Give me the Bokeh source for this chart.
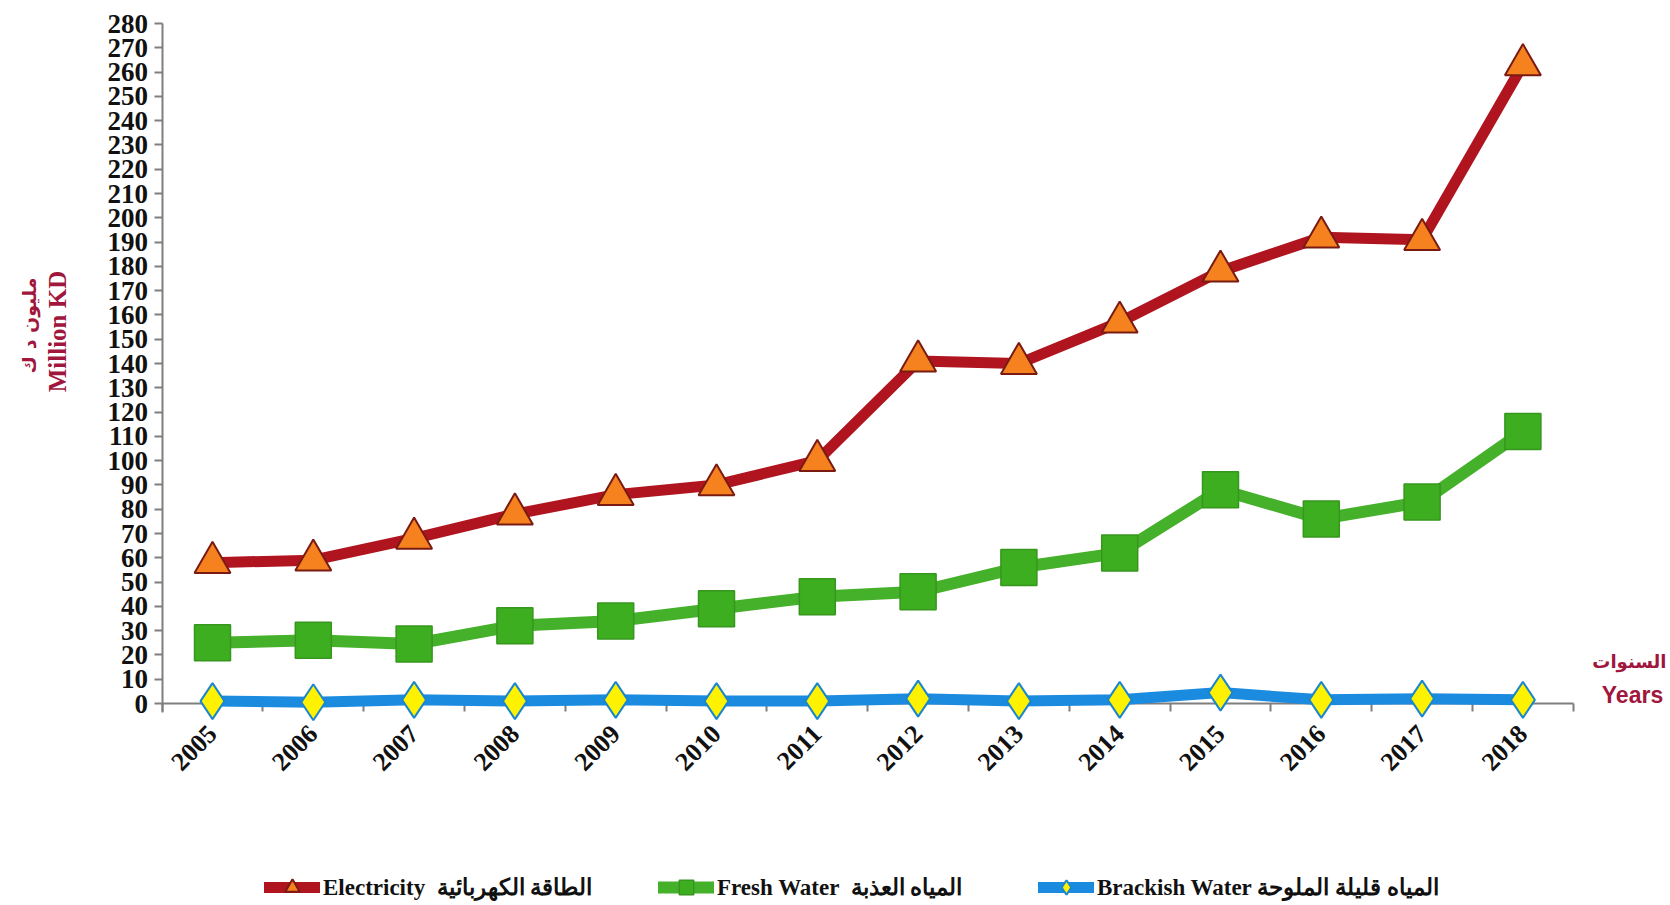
import math
from bokeh.plotting import figure
from bokeh.models import FixedTicker, Label, Legend, LegendItem, Range1d, ColumnDataSource
from bokeh.embed import file_html
from bokeh.resources import INLINE

years = [2005, 2006, 2007, 2008, 2009, 2010, 2011, 2012, 2013, 2014, 2015, 2016, 2017, 2018]
electricity = [58, 59, 68, 78, 86, 90, 100, 141, 140, 157, 178, 192, 191, 263]
fresh_water = [25, 26, 24.5, 32, 34, 39, 44, 46, 56, 62, 88, 76, 83, 112]
brackish_water = [1, 0.5, 1.5, 1, 1.5, 1, 1, 2, 1, 1.5, 4.5, 1.5, 2, 1.5]
y_ticks = list(range(0, 281, 10))

legend_labels = [
    "Electricity  الطاقة الكهربائية",
    "Fresh Water  المياه العذبة",
    "Brackish Water المياه قليلة الملوحة",
]

CRIMSON = "#A0163C"
SERIF = "Liberation Serif"
W, H = 1670, 905

# layout geometry (page pixels) -> the frame covers the whole figure
X_PX0, X_PER = 161.6, 100.8      # page x of (first year - 0.5), pixels per year
Y_PX0, Y_PER = 703.0, 680 / 280  # page y of value 0, pixels per unit
x_lo = years[0] - 0.5
x_hi = years[-1] + 0.5


def px_x(page_x):
    return x_lo + (page_x - X_PX0) / X_PER


def px_y(page_y):
    return (Y_PX0 - page_y) / Y_PER


src = ColumnDataSource(dict(x=years, e=electricity, f=fresh_water, b=brackish_water))

p = figure(width=W, height=H, output_backend="svg", toolbar_location=None,
           x_range=Range1d(px_x(0), px_x(W)), y_range=Range1d(px_y(H), px_y(0)),
           min_border=0)
p.outline_line_color = None
p.xgrid.grid_line_color = None
p.ygrid.grid_line_color = None
p.background_fill_color = "white"
p.border_fill_color = "white"

# series
l_b = p.line("x", "b", source=src, line_color="#1B8BE0", line_width=11, line_cap="round", line_join="round")
l_f = p.line("x", "f", source=src, line_color="#45B02A", line_width=12, line_cap="round", line_join="round")
l_e = p.line("x", "e", source=src, line_color="#B0141F", line_width=11, line_cap="round", line_join="round")
m_b = p.scatter("x", "b", source=src, marker="diamond", size=36, fill_color="#FFF200",
                line_color="#1A86D0", line_width=2)
m_f = p.scatter("x", "f", source=src, marker="square", size=36, fill_color="#3DAE1F",
                line_color="#37961E", line_width=1.5)
m_e = p.scatter("x", "e", source=src, marker="triangle", size=36, fill_color="#F5821F",
                line_color="#7A1A12", line_width=2)

# axes placed at fixed data locations inside the full-figure frame
yax = p.yaxis[0]
yax.fixed_location = x_lo
yax.bounds = (-3.5, y_ticks[-1])
yax.ticker = FixedTicker(ticks=y_ticks)
yax.axis_line_color = "#7F7F7F"
yax.axis_line_width = 2
yax.major_tick_line_color = "#7F7F7F"
yax.major_tick_line_width = 2
yax.major_tick_out = 8
yax.major_tick_in = 0
yax.minor_tick_line_color = None
yax.major_label_text_font = SERIF
yax.major_label_text_font_style = "bold"
yax.major_label_text_font_size = "27px"
yax.major_label_text_color = "#111111"
yax.major_label_standoff = 6
yax.level = "underlay"

xax = p.xaxis[0]
xax.fixed_location = 0
xax.bounds = (x_lo, x_hi)
xax.ticker = FixedTicker(ticks=years, minor_ticks=[y - 0.5 for y in years] + [x_hi])
xax.major_label_overrides = {y: str(y) for y in years}
xax.axis_line_color = "#7F7F7F"
xax.axis_line_width = 2
xax.major_tick_line_color = None
xax.major_tick_out = 0
xax.major_tick_in = 0
xax.minor_tick_line_color = "#7F7F7F"
xax.minor_tick_line_width = 2
xax.minor_tick_out = 8
xax.minor_tick_in = 0
xax.major_label_orientation = math.pi / 4
xax.major_label_text_font = SERIF
xax.major_label_text_font_style = "bold"
xax.major_label_text_font_size = "26px"
xax.major_label_text_color = "#111111"
xax.major_label_standoff = 18
xax.level = "underlay"

# axis titles
p.add_layout(Label(x=px_x(28), y=px_y(325), text="مليون د ك", angle=math.pi / 2,
                   text_align="center", text_baseline="middle", text_color=CRIMSON,
                   text_font="DejaVu Sans", text_font_style="bold", text_font_size="19px"))
p.add_layout(Label(x=px_x(57), y=px_y(331), text="Million KD", angle=math.pi / 2,
                   text_align="center", text_baseline="middle", text_color=CRIMSON,
                   text_font=SERIF, text_font_style="bold", text_font_size="25px"))
p.add_layout(Label(x=px_x(1666), y=px_y(661), text="السنوات",
                   text_align="right", text_baseline="middle", text_color=CRIMSON,
                   text_font="DejaVu Sans", text_font_style="bold", text_font_size="18px"))
p.add_layout(Label(x=px_x(1632), y=px_y(694), text="Years",
                   text_align="center", text_baseline="middle", text_color=CRIMSON,
                   text_font="Liberation Sans", text_font_style="bold", text_font_size="23px"))

# legends (one per item to pin positions)
legend_x = [264, 658, 1038]
for lab, rends, lx in zip(legend_labels, [[l_e, m_e], [l_f, m_f], [l_b, m_b]], legend_x):
    lg = Legend(items=[LegendItem(label=lab, renderers=rends)], location=(lx, 0),
                orientation="horizontal", glyph_width=56, glyph_height=36,
                label_standoff=3, padding=0, margin=0, border_line_color=None,
                background_fill_alpha=0, label_text_font=SERIF, label_text_font_style="bold",
                label_text_font_size="23px", label_text_color="#111111", label_height=36)
    p.add_layout(lg)

open("out.html", "w").write(file_html(p, INLINE))
